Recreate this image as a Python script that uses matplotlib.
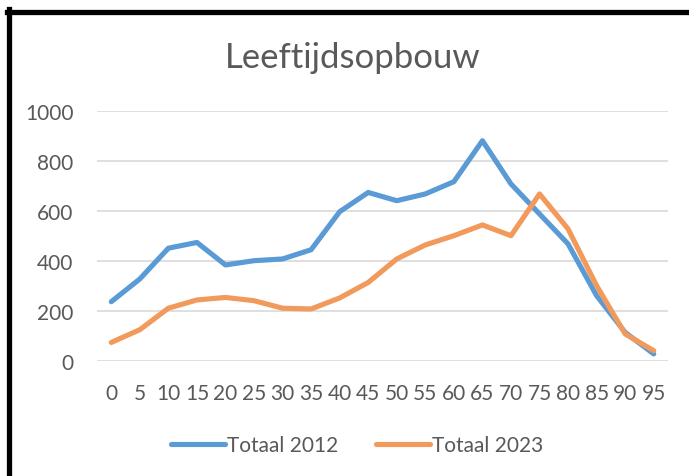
import matplotlib
matplotlib.use("Agg")
from matplotlib import pyplot as plt
from matplotlib.lines import Line2D

plt.rcParams['font.family'] = ['Lato', 'DejaVu Sans']

ages = ['0', '5', '10', '15', '20', '25', '30', '35', '40', '45',
        '50', '55', '60', '65', '70', '75', '80', '85', '90', '95']
totaal_2012 = [236, 327, 450, 473, 383, 400, 407, 444, 596, 673,
               640, 667, 716, 880, 707, 587, 467, 260, 113, 27]
totaal_2023 = [73, 124, 210, 243, 253, 240, 210, 207, 251, 313,
               407, 463, 500, 543, 500, 667, 527, 300, 107, 40]
yticks = [0, 200, 400, 600, 800, 1000]

blue = '#5B9BD5'
orange = '#F19A5B'
grey_txt = '#595959'

W, H = 689, 477
fig = plt.figure(figsize=(W / 100, H / 100), dpi=100)
ax = fig.add_axes([97 / W, 1 - 361.7 / H, (668 - 97) / W, 250 / H])

x = list(range(len(ages)))
ax.plot(x, totaal_2012, color=blue, lw=3.7, label='Totaal 2012', solid_joinstyle='round', solid_capstyle='round')
ax.plot(x, totaal_2023, color=orange, lw=3.7, label='Totaal 2023', solid_joinstyle='round', solid_capstyle='round')

ax.set_xlim(-0.5, len(ages) - 0.5)
ax.set_ylim(0, 1000)
ax.set_xticks(x)
ax.set_xticklabels(ages)
ax.set_yticks(yticks)
ax.tick_params(length=0, labelsize=15, colors=grey_txt)
ax.tick_params(axis='x', pad=16)
ax.tick_params(axis='y', pad=17)
ax.grid(axis='y', color='#D9D9D9', lw=1.2)
ax.set_axisbelow(True)
for s in ax.spines.values():
    s.set_visible(False)

fig.text(353 / W, 1 - 58 / H, 'Leeftijdsopbouw', ha='center', va='center',
         fontsize=25, color=grey_txt)

ax.legend(loc='center', bbox_to_anchor=(357 / W, 1 - 446 / H), bbox_transform=fig.transFigure,
          ncol=2, frameon=False, fontsize=15, labelcolor=grey_txt,
          handlelength=2.6, handletextpad=0.1, columnspacing=1.8)

# black frame (top and left edges visible)
fig.add_artist(Line2D([8.5 / W, 8.5 / W], [0, 1 - 10 / H], color='black', lw=3.8, transform=fig.transFigure))
fig.add_artist(Line2D([6.5 / W, 1], [1 - 12.5 / H, 1 - 12.5 / H], color='black', lw=3.8, transform=fig.transFigure))

fig.savefig('out.png', dpi=100)
